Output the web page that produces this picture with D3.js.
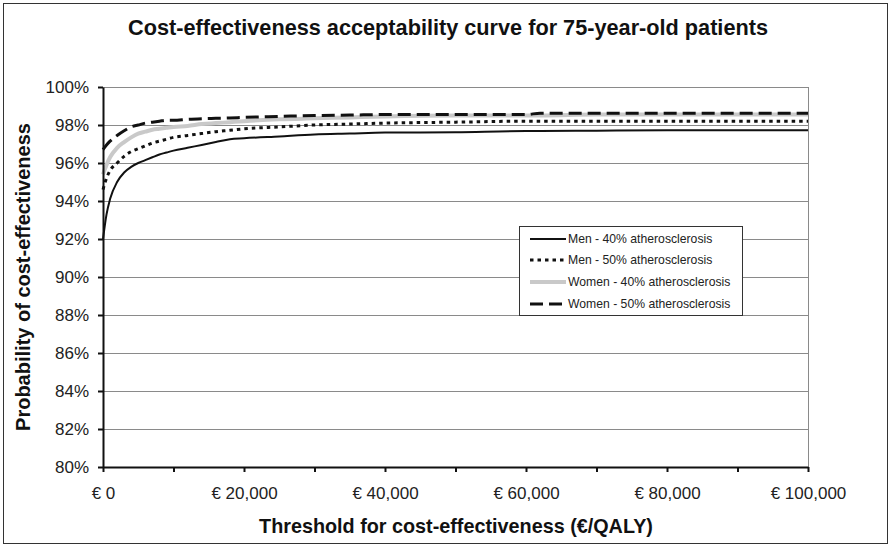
<!DOCTYPE html>
<html>
<head>
<meta charset="utf-8">
<script src="https://cdn.jsdelivr.net/npm/d3@7"></script>
<style>
  html, body { margin: 0; padding: 0; background: #fff; }
  svg { display: block; font-family: "Liberation Sans", Arial, sans-serif; }
</style>
</head>
<body>
<svg id="chart" width="892" height="546"></svg>
<script>
// Willingness-to-pay thresholds (€/QALY)
const thresholds = [0, 500, 1000, 2000, 3000, 4000, 5000, 6000, 7000, 8000, 9000, 10000,
  12000, 14000, 16000, 18000, 20000, 25000, 30000, 35000, 40000, 50000, 60000, 62000,
  70000, 80000, 90000, 100000];

// Probability of cost-effectiveness per series (%)
const men40 = [92.0, 93.3, 94.1, 95.0, 95.5, 95.8, 96.0, 96.15, 96.3, 96.45, 96.55, 96.65,
  96.8, 96.95, 97.1, 97.25, 97.3, 97.4, 97.5, 97.55, 97.6, 97.62, 97.68, 97.68,
  97.7, 97.72, 97.72, 97.72];
const men50 = [94.6, 95.2, 95.6, 96.0, 96.35, 96.6, 96.75, 96.9, 97.05, 97.15, 97.25, 97.35,
  97.45, 97.55, 97.65, 97.72, 97.8, 97.9, 98.0, 98.05, 98.1, 98.15, 98.2, 98.2,
  98.2, 98.2, 98.2, 98.2];
const women40 = [95.4, 95.9, 96.3, 96.8, 97.1, 97.35, 97.55, 97.65, 97.75, 97.8, 97.85, 97.9,
  97.95, 98.05, 98.1, 98.15, 98.2, 98.3, 98.35, 98.4, 98.45, 98.5, 98.5, 98.5,
  98.55, 98.55, 98.55, 98.55];
const women50 = [96.7, 96.95, 97.15, 97.45, 97.7, 97.9, 98.0, 98.1, 98.15, 98.2, 98.25, 98.25,
  98.3, 98.33, 98.35, 98.37, 98.4, 98.45, 98.5, 98.52, 98.55, 98.55, 98.55, 98.62,
  98.62, 98.62, 98.62, 98.62];

const seriesNames = ["Men - 40% atherosclerosis", "Men - 50% atherosclerosis",
  "Women - 40% atherosclerosis", "Women - 50% atherosclerosis"];

const yTicks = [80, 82, 84, 86, 88, 90, 92, 94, 96, 98, 100];
const xTicks = [0, 10000, 20000, 30000, 40000, 50000, 60000, 70000, 80000, 90000, 100000];
const xLabelled = [0, 20000, 40000, 60000, 80000, 100000];

const styles = [
  { stroke: "#111", width: 2, dash: null },
  { stroke: "#111", width: 3, dash: "3.5,4" },
  { stroke: "#c9c9c9", width: 4, dash: null },
  { stroke: "#111", width: 3, dash: "13,6" }
];

const svg = d3.select("#chart");
const plotL = 103, plotR = 808, plotT = 87, plotB = 467;

const x = d3.scaleLinear().domain([0, 100000]).range([plotL, plotR]);
const y = d3.scaleLinear().domain([80, 100]).range([plotB, plotT]);

// Outer frame
svg.append("rect").attr("x", 3.5).attr("y", 3.5).attr("width", 884).attr("height", 540)
  .attr("fill", "#fff").attr("stroke", "#333").attr("stroke-width", 1);

// Title
svg.append("text").attr("x", 448).attr("y", 35).attr("text-anchor", "middle")
  .attr("font-size", 21.7).attr("font-weight", "bold").attr("fill", "#111")
  .text("Cost-effectiveness acceptability curve for 75-year-old patients");

// Horizontal gridlines
svg.append("g").selectAll("line").data(yTicks.filter(d => d > 80)).join("line")
  .attr("x1", plotL).attr("x2", plotR)
  .attr("y1", d => Math.round(y(d)) + 0.5).attr("y2", d => Math.round(y(d)) + 0.5)
  .attr("stroke", "#8a8a8a").attr("stroke-width", 1);

// Right border of plot area
svg.append("line").attr("x1", plotR + 0.5).attr("x2", plotR + 0.5).attr("y1", plotT).attr("y2", plotB)
  .attr("stroke", "#8a8a8a").attr("stroke-width", 1);

// Curves
const line = d3.line().x((d, i) => x(thresholds[i])).y(d => y(d)).curve(d3.curveMonotoneX);
[men40, men50, women40, women50].forEach((vals, k) => {
  const s = styles[k];
  svg.append("path").datum(vals).attr("d", line)
    .attr("fill", "none").attr("stroke", s.stroke).attr("stroke-width", s.width)
    .attr("stroke-dasharray", s.dash).attr("stroke-linejoin", "round");
});

// Y axis
const yAxis = d3.axisLeft(y).tickValues(yTicks).tickSize(5).tickSizeOuter(0).tickPadding(9)
  .tickFormat(d => d + "%");
const gy = svg.append("g").attr("transform", `translate(${plotL},0)`).call(yAxis);
gy.select(".domain").attr("stroke", "#111").attr("stroke-width", 2);
gy.selectAll(".tick line").attr("stroke", "#111").attr("stroke-width", 2);
gy.selectAll(".tick text").attr("font-size", 17).attr("fill", "#222")
  .attr("font-family", "'Liberation Sans', Arial, sans-serif");

// X axis
const xAxis = d3.axisBottom(x).tickValues(xTicks).tickSize(5).tickSizeOuter(0).tickPadding(15)
  .tickFormat(d => xLabelled.includes(d) ? "€ " + d3.format(",")(d) : "");
const gx = svg.append("g").attr("transform", `translate(0,${plotB})`).call(xAxis);
gx.select(".domain").attr("stroke", "#111").attr("stroke-width", 2);
gx.selectAll(".tick line").attr("stroke", "#111").attr("stroke-width", 2);
gx.selectAll(".tick text").attr("font-size", 17).attr("fill", "#222")
  .attr("font-family", "'Liberation Sans', Arial, sans-serif");

// Axis titles
svg.append("text").attr("x", 456).attr("y", 533).attr("text-anchor", "middle")
  .attr("font-size", 19.8).attr("font-weight", "bold").attr("fill", "#111")
  .text("Threshold for cost-effectiveness (€/QALY)");
svg.append("text").attr("transform", `translate(30,${(plotT + plotB) / 2}) rotate(-90)`)
  .attr("text-anchor", "middle")
  .attr("font-size", 20).attr("font-weight", "bold").attr("fill", "#111")
  .text("Probability of cost-effectiveness");

// Legend
const lg = svg.append("g");
lg.append("rect").attr("x", 519.5).attr("y", 226.5).attr("width", 223).attr("height", 89)
  .attr("fill", "#fff").attr("stroke", "#333").attr("stroke-width", 1);
const rowY = [239, 260, 282, 304];
seriesNames.forEach((name, k) => {
  const s = styles[k];
  lg.append("line").attr("x1", 530).attr("x2", 566).attr("y1", rowY[k]).attr("y2", rowY[k])
    .attr("stroke", s.stroke).attr("stroke-width", s.width).attr("stroke-dasharray", s.dash);
  lg.append("text").attr("x", 568).attr("y", rowY[k]).attr("dy", "0.35em")
    .attr("font-size", 12.2).attr("fill", "#222").text(name);
});
</script>
</body>
</html>
